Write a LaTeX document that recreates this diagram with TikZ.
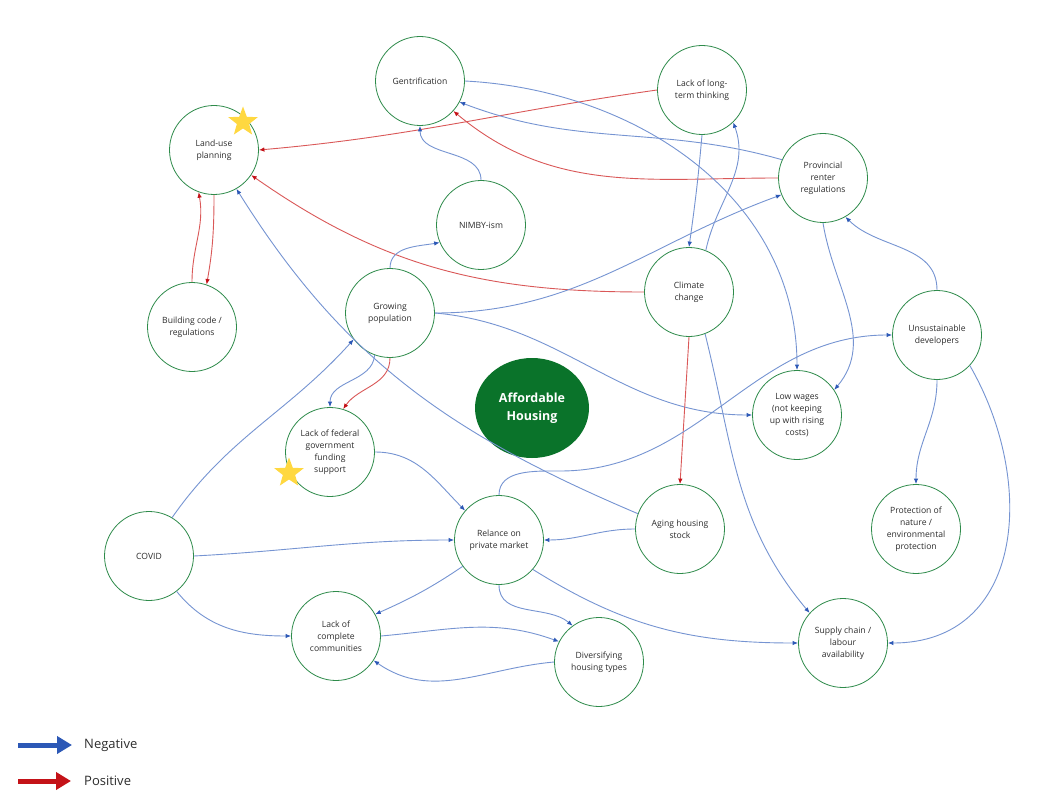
\documentclass[tikz,border=0pt]{standalone}
\usepackage{fontspec}
\setmainfont{Open Sans}
\usetikzlibrary{arrows.meta,shapes.geometric}
\definecolor{ringG}{RGB}{46,139,74}
\definecolor{negL}{RGB}{118,148,210}
\definecolor{negH}{RGB}{44,88,182}
\definecolor{posL}{RGB}{218,88,88}
\definecolor{posH}{RGB}{196,18,24}
\definecolor{hubG}{RGB}{10,115,42}
\definecolor{starY}{RGB}{255,216,64}
\definecolor{txtC}{RGB}{45,45,45}
\tikzset{
    bareN/.style={draw=negL, line width=0.9pt, -{Latex[length=5.5pt,width=4.5pt,color=negH]}},
    bareP/.style={draw=posL, line width=0.9pt, -{Latex[length=5.5pt,width=4.5pt,color=posH]}},
    legN/.style={draw=negH, line width=5pt, -{Triangle[length=15pt,width=17pt]}},
    legP/.style={draw=posH, line width=5pt, -{Triangle[length=15pt,width=17pt]}}
}
\begin{document}
\begin{tikzpicture}[x=1pt,y=1pt]
    \def \D {89pt}
    \tikzstyle{issue}=[draw=ringG, circle, line width=0.8pt, minimum size=\D, inner sep=0pt, align=center, text=txtC, font=\fontsize{8.6}{12}\selectfont];
    \tikzstyle{starM}=[star, star points=5, star point ratio=2.4, minimum size=31pt, inner sep=0pt, fill=starY];
    \fill[white] (0,0) rectangle (1054,-802);
    \node[issue] (gent) at (420,-81) {Gentrification};
    \node[issue] (land) at (214,-150) {Land-use\\planning};
    \node[issue] (nimby) at (481,-225) {NIMBY-ism};
    \node[issue] (llt) at (702,-90) {Lack of long-\\term thinking};
    \node[issue] (prov) at (823,-178) {Provincial\\renter\\regulations};
    \node[issue] (clim) at (689,-292) {Climate\\change};
    \node[issue] (unsus) at (937,-335) {Unsustainable\\developers};
    \node[issue] (build) at (192,-327) {Building code /\\regulations};
    \node[issue] (grow) at (390,-313) {Growing\\population};
    \node[issue] (fed) at (330,-452) {Lack of federal\\government\\funding\\support};
    \node[ellipse, fill=hubG, minimum width=114pt, minimum height=100pt, inner sep=0pt, align=center, text=white,
          font=\fontsize{12.5}{18}\selectfont\bfseries] (ah) at (532,-408) {Affordable\\Housing};
    \node[issue] (low) at (797,-415) {Low wages\\(not keeping\\up with rising\\costs)};
    \node[issue] (aging) at (680,-529) {Aging housing\\stock};
    \node[issue] (prot) at (916,-529) {Protection of\\nature /\\environmental\\protection};
    \node[issue] (rel) at (499,-540) {Relance on\\private market};
    \node[issue] (supply) at (843,-643) {Supply chain /\\labour\\availability};
    \node[issue] (div) at (599,-662) {Diversifying\\housing types};
    \node[issue] (covid) at (149,-556) {COVID};
    \node[issue] (lcc) at (336,-636) {Lack of\\complete\\communities};
    \node[starM] (star1) at (243,-122) {};
    \node[starM] (star2) at (289,-473) {};
    \draw[bareP] (llt.180) to[out=188,in=5] (land.0);
    \draw[bareP] (prov.180) to[out=180,in=-40] (gent.-42);
    \draw[bareN] (prov.156) to[out=164,in=-21] (gent.-28);
    \draw[bareN] (gent.0) to[out=-3,in=90] (low.90);
    \draw[bareN] (nimby.90) to[out=90,in=-90] (gent.-90);
    \draw[bareP] (clim.180) to[out=180,in=-35] (land.-34);
    \draw[bareN] (aging.160) to[out=157,in=-58] (land.-60);
    \draw[bareP] (build.90) to[out=90,in=-80] (land.-110);
    \draw[bareP] (land.-90) to[out=-90,in=80] (build.71);
    \draw[bareN] (grow.90) to[out=90,in=190] (nimby.203);
    \draw[bareN] (grow.0) to[out=0,in=200] (prov.202);
    \draw[bareN] (grow.0) to[out=-5,in=180] (low.180);
    \draw[bareN] (grow.-110) to[out=-95,in=90] (fed.90);
    \draw[bareP] (grow.-90) to[out=-90,in=55] (fed.73);
    \draw[bareN] (llt.-90) to[out=-95,in=82] (clim.90);
    \draw[bareN] (clim.68) to[out=78,in=-70] (llt.-46);
    \draw[bareN] (prov.-90) to[out=-81,in=50] (low.34);
    \draw[bareN] (unsus.90) to[out=90,in=-45] (prov.-60);
    \draw[bareP] (clim.-90) -- (aging.90);
    \draw[bareN] (clim.-69) to[out=-76,in=130] (supply.138);
    \coordinate (relbend) at (560,-471);
    \draw[bareN] (rel.90) to[out=90,in=180] (relbend) to[out=0,in=180] (unsus.180);
    \draw[bareN] (unsus.-90) to[out=-90,in=90] (prot.90);
    \draw[bareN] (unsus.-43) to[out=-60,in=0,looseness=1.2] (supply.0);
    \draw[bareN] (fed.0) to[out=0,in=135] (rel.139);
    \draw[bareN] (aging.180) to[out=180,in=0] (rel.0);
    \draw[bareN] (covid.0) to[out=3,in=180] (rel.180);
    \draw[bareN] (covid.59) to[out=55,in=228] (grow.216);
    \draw[bareN] (covid.-52) to[out=-51,in=180] (lcc.180);
    \draw[bareN] (rel.216) to[out=214,in=24] (lcc.29);
    \draw[bareN] (rel.-90) to[out=-90,in=140] (div.126);
    \draw[bareN] (rel.-41) to[out=-32,in=180] (supply.180);
    \draw[bareN] (lcc.0) to[out=5,in=160] (div.153);
    \draw[bareN] (div.180) to[out=185,in=-35] (lcc.-33);
    % legend
    \coordinate (negA) at (18,-745);
    \coordinate (negB) at (72,-745);
    \coordinate (posA) at (18,-781);
    \coordinate (posB) at (71,-781);
    \draw[legN] (negA) -- (negB);
    \draw[legP] (posA) -- (posB);
    \node[anchor=west, inner sep=0pt, text=txtC, font=\fontsize{13}{15}\selectfont] (negT) at (84,-745) {Negative};
    \node[anchor=west, inner sep=0pt, text=txtC, font=\fontsize{13}{15}\selectfont] (posT) at (84,-781) {Positive};
\end{tikzpicture}
\end{document}
